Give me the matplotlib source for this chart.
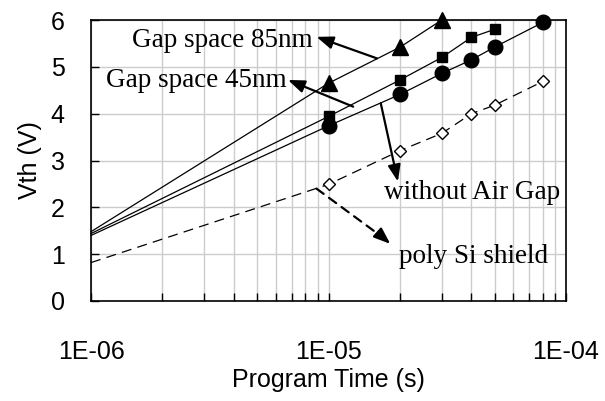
import numpy as np
import matplotlib
matplotlib.use('Agg')
import matplotlib.pyplot as plt
from matplotlib.ticker import LogLocator, FixedLocator, NullFormatter

# program time (s); first point is the unmarked start of each line
times = [1e-6, 1e-5, 2e-5, 3e-5, 4e-5, 5e-5, 8e-5]
gap85 = [1.48, 4.65, 5.42, 6.00]
gap45 = [1.44, 3.94, 4.72, 5.20, 5.63, 5.80]
no_gap = [1.40, 3.74, 4.41, 4.86, 5.15, 5.42, 5.95]
poly_si = [0.82, 2.49, 3.21, 3.58, 4.00, 4.18, 4.69]

x_ticks = [1e-6, 1e-5, 1e-4]
x_labels = ['1E-06', '1E-05', '1E-04']
y_ticks = [0, 1, 2, 3, 4, 5, 6]

plt.rcParams['font.family'] = ['Liberation Sans', 'DejaVu Sans']
W, H = 605, 401
fig = plt.figure(figsize=(W / 100, H / 100), dpi=100)
ax = fig.add_axes([91 / W, (H - 301) / H, 475 / W, 281 / H])

ax.set_xscale('log')
ax.set_xlim(1e-6, 1e-4)
ax.set_ylim(0, 6)

grid_c = '#cccccc'
ax.xaxis.set_major_locator(FixedLocator(x_ticks))
ax.xaxis.set_minor_locator(LogLocator(base=10, subs=np.arange(2, 10)))
ax.xaxis.set_minor_formatter(NullFormatter())
ax.set_xticklabels(x_labels)
ax.set_yticks(y_ticks)
ax.grid(True, which='both', axis='x', color=grid_c, lw=1.0)
ax.grid(True, which='major', axis='y', color=grid_c, lw=1.0)
ax.set_axisbelow(True)
ax.tick_params(axis='both', which='both', direction='in', length=6, width=1.0,
               labelsize=18)
ax.tick_params(axis='x', which='major', pad=28)
ax.tick_params(axis='y', which='major', pad=19)
for s in ax.spines.values():
    s.set_linewidth(1.2)

k = dict(color='black', lw=0.9, markevery=slice(1, None), clip_on=False, zorder=3)
ax.plot(times[:len(gap85)], gap85, marker='^', ms=11, **k)
ax.plot(times[:len(gap45)], gap45, marker='s', ms=7.5, **k)
ax.plot(times, no_gap, marker='o', ms=10.5, **k)
ax.plot(times, poly_si, marker='D', ms=6, mfc='white', mew=1.0,
        ls=(0, (8, 5)), **k)

ax.set_xlabel('Program Time (s)', fontsize=18, labelpad=3)
ax.set_ylabel('Vth (V)', fontsize=18, labelpad=6)

arr = dict(arrowstyle='-|>,head_length=1.0,head_width=0.38', color='black',
           lw=1.6, shrinkA=0, shrinkB=0)
tfont = dict(family=['Liberation Serif', 'DejaVu Serif'], fontsize=19.5, va='center')

ax.text(1.49e-6, 5.57, 'Gap space 85nm', ha='left', **tfont)
ax.annotate('', xy=(8.9e-6, 5.64), xytext=(1.6e-5, 5.18), arrowprops=arr)

ax.text(1.16e-6, 4.70, 'Gap space 45nm', ha='left', **tfont)
ax.annotate('', xy=(6.75e-6, 4.72), xytext=(1.27e-5, 4.15), arrowprops=arr)

ax.text(1.71e-5, 2.31, 'without Air Gap', ha='left', **tfont)
ax.annotate('', xy=(1.96e-5, 2.55), xytext=(1.66e-5, 4.22), arrowprops=arr)

ax.text(1.98e-5, 0.96, 'poly Si shield', ha='left', **tfont)
ax.annotate('', xy=(1.7e-5, 1.35), xytext=(8.9e-6, 2.40),
            arrowprops=dict(arrowstyle='-', color='black', lw=1.6,
                            ls=(0, (4, 3)), shrinkA=0, shrinkB=0))
ax.annotate('', xy=(1.82e-5, 1.22), xytext=(1.72e-5, 1.33), arrowprops=arr)

fig.savefig('out.png', dpi=100)
